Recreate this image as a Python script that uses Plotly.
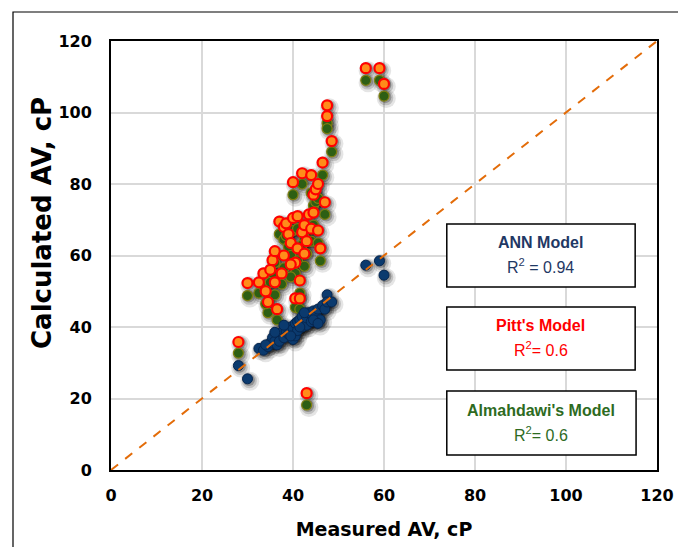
import plotly.graph_objects as go

# Measured AV (cP) and calculated AV from three models
measured = [28.0, 30.0, 32.5, 33.5, 34.5, 35.0, 35.5, 36.0, 36.5, 37.0, 37.5, 38.0,
            38.5, 39.0, 39.5, 40.0, 40.0, 40.5, 40.5, 41.0, 41.0, 41.5, 42.0, 42.0,
            42.5, 43.0, 43.0, 43.5, 44.0, 44.0, 44.5, 45.0, 45.5, 46.0, 46.5, 47.0,
            47.5, 47.5, 48.5, 56.0, 59.0, 60.0, 34.0, 36.0, 38.0, 39.5, 41.5, 42.5,
            44.5, 45.5]
pitt = [35.8, 52.3, 52.5, 55.0, 47.0, 56.0, 58.7, 61.2, 45.0, 69.5, 55.0, 68.0,
        69.0, 66.0, 63.5, 80.5, 70.5, 58.0, 48.0, 71.0, 62.0, 53.0, 83.0, 66.5,
        68.5, 21.5, 64.0, 71.5, 82.5, 67.5, 77.0, 78.5, 80.0, 62.0, 86.0, 74.9,
        102.0, 99.0, 92.0, 112.4, 112.4, 108.0, 50.0, 52.5, 60.0, 57.5, 48.0, 60.5,
        72.0, 67.0]
almahdawi = [32.7, 48.8, 49.5, 51.5, 44.0, 52.5, 55.0, 58.0, 42.0, 66.0, 52.0, 64.5,
             65.5, 62.5, 60.0, 77.0, 67.0, 55.0, 45.5, 67.5, 58.5, 49.5, 80.0, 63.0,
             65.0, 18.2, 60.5, 68.0, 77.5, 64.0, 74.0, 75.0, 76.0, 58.5, 82.5, 71.5,
             97.0, 95.5, 89.0, 109.0, 109.0, 104.6, 46.5, 49.0, 56.5, 54.0, 45.0, 57.0,
             68.5, 63.5]
ann = [29.2, 25.5, 34.0, 33.5, 34.5, 35.5, 37.0, 36.0, 35.0, 36.0, 38.5, 37.0,
       39.0, 38.0, 40.0, 36.5, 39.5, 41.0, 37.5, 41.5, 39.0, 42.0, 40.0, 43.0,
       41.0, 40.5, 42.5, 44.0, 43.5, 41.5, 44.5, 43.0, 45.0, 42.0, 46.0, 45.0,
       49.0, 47.0, 47.0, 57.3, 58.5, 54.5, 35.0, 38.5, 40.5, 37.5, 40.0, 44.0,
       42.0, 41.0]

x_ticks = [0, 20, 40, 60, 80, 100, 120]
y_ticks = [0, 20, 40, 60, 80, 100, 120]

fig = go.Figure()

# soft shadows
for ys in (almahdawi, pitt, ann):
    for sz, op, dx, dy in ((19, 0.10, 0.5, -0.7), (15, 0.16, 0.4, -0.5), (12, 0.25, 0.3, -0.3)):
        fig.add_trace(go.Scatter(
            x=[v + dx for v in measured], y=[v + dy for v in ys], mode="markers",
            marker=dict(size=sz, color="black", opacity=op, line=dict(width=0)),
            hoverinfo="skip", showlegend=False))

fig.add_trace(go.Scatter(x=measured, y=almahdawi, mode="markers", name="Almahdawi",
                         marker=dict(size=10, color="#2D5F14", line=dict(color="#7F7F10", width=1.2)),
                         showlegend=False))
fig.add_trace(go.Scatter(x=measured, y=pitt, mode="markers", name="Pitt",
                         marker=dict(size=10, color="#FF8C1A", line=dict(color="#FF0000", width=2.2)),
                         showlegend=False))
fig.add_trace(go.Scatter(x=measured, y=ann, mode="markers", name="ANN",
                         marker=dict(size=10, color="#0B3A6E", line=dict(color="#062650", width=1)),
                         showlegend=False))

# 45-degree line
fig.add_trace(go.Scatter(x=[x_ticks[0], x_ticks[-1]], y=[y_ticks[0], y_ticks[-1]], mode="lines",
                         line=dict(color="#E36C09", width=2, dash="dash"),
                         hoverinfo="skip", showlegend=False))

# model boxes
boxes = [
    (73.8, 115.2, 51.2, 68.8, "ANN Model", "R<sup>2</sup> = 0.94", "#1F3864"),
    (73.8, 115.2, 28.0, 45.6, "Pitt's Model", "R<sup>2</sup>= 0.6", "#FF0000"),
    (73.8, 115.4, 4.2, 22.1, "Almahdawi's Model", "R<sup>2</sup>= 0.6", "#2E6B1F"),
]
for x0, x1, y0, y1, title, r2, col in boxes:
    fig.add_shape(type="rect", xref="x", yref="y", x0=x0, x1=x1, y0=y0, y1=y1,
                  line=dict(color="black", width=1.5), fillcolor="white", layer="above")
    cx = (x0 + x1) / 2
    fig.add_annotation(x=cx, y=y1 - (y1 - y0) * 0.30, xref="x", yref="y", text="<b>" + title + "</b>",
                       showarrow=False, font=dict(family="Liberation Sans", size=16, color=col))
    fig.add_annotation(x=cx, y=y1 - (y1 - y0) * 0.67, xref="x", yref="y", text=r2,
                       showarrow=False, font=dict(family="Liberation Sans", size=16, color=col))

# y-axis title (placed above the plot centre as in the source)
fig.add_annotation(x=(42 - 111) / 546, y=(470 - 223) / 429, xref="paper", yref="paper",
                   text="<b>Calculated AV, cP</b>", textangle=-90, showarrow=False,
                   xanchor="center", yanchor="middle",
                   font=dict(family="DejaVu Sans", size=26, color="black"))

# outer chart frame
fig.add_shape(type="rect", xref="paper", yref="paper",
              x0=(13 - 111) / 546, x1=(690 - 111) / 546, y0=(470 - 560) / 429, y1=(470 - 12) / 429,
              line=dict(color="black", width=1.2), fillcolor="rgba(0,0,0,0)", layer="below")

axis_common = dict(
    range=[0, 120], tickvals=x_ticks, showgrid=True, gridcolor="#D9D9D9", gridwidth=2,
    zeroline=False, showline=True, linecolor="black", linewidth=2, mirror=True,
    ticks="", automargin=False,
    tickfont=dict(family="DejaVu Sans", size=16, color="black", weight="bold"),
)

fig.update_layout(
    width=678, height=547,
    margin=dict(l=111, r=21, t=41, b=77),
    paper_bgcolor="white", plot_bgcolor="white",
    xaxis=dict(axis_common, ticklabelstandoff=10,
               title=dict(text="Measured AV, cP", standoff=18,
                          font=dict(family="DejaVu Sans", size=19, color="black", weight="bold"))),
    yaxis=dict(axis_common, tickvals=y_ticks, ticklabelstandoff=14),
)

fig.write_html("out.html")
